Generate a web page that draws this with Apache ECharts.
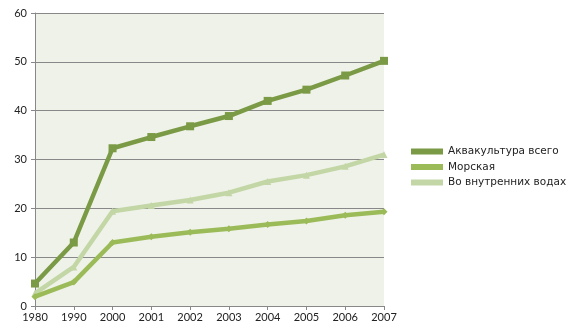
<!DOCTYPE html>
<html><head><meta charset="utf-8">
<script src="https://cdn.jsdelivr.net/npm/echarts@6/dist/echarts.min.js"></script>
<style>html,body{margin:0;padding:0;background:#fff}#c{width:576px;height:336px}</style>
</head><body><div id="c"></div>
<script>
var categories = ['1980','1990','2000','2001','2002','2003','2004','2005','2006','2007'];
var seriesNames = ['Аквакультура всего','Морская','Во внутренних водах'];
var totalValues = [4.6, 13.0, 32.3, 34.6, 36.8, 38.9, 42.0, 44.3, 47.2, 50.2];
var marineValues = [1.9, 4.9, 13.0, 14.2, 15.1, 15.8, 16.7, 17.4, 18.6, 19.3];
var inlandValues = [2.6, 8.0, 19.4, 20.6, 21.7, 23.2, 25.5, 26.8, 28.6, 31.0];
var yTicks = [0, 10, 20, 30, 40, 50, 60];

var colors = ['#7a9a45', '#9bbb59', '#c3d6a6'];
var symbols = ['rect', 'diamond', 'triangle'];
var data = [totalValues, marineValues, inlandValues];
var font = 'Lato, "Open Sans", sans-serif';

var chart = echarts.init(document.getElementById('c'));
chart.setOption({
  animation: false,
  grid: {left: 35, right: 192, top: 13, bottom: 30, show: true, backgroundColor: '#eff2e8', borderWidth: 0},
  legend: {
    orient: 'vertical', left: 411, top: 146, itemWidth: 32, itemHeight: 6, itemGap: 4.5,
    padding: 0,
    textStyle: {fontFamily: '"DejaVu Sans", sans-serif', fontSize: 10.5, color: '#222'},
    data: seriesNames.map(function(n, i){ return {name: n, icon: 'rect'}; })
  },
  xAxis: {
    type: 'category', data: categories, boundaryGap: false,
    axisLine: {lineStyle: {color: '#888', width: 1}},
    axisTick: {show: true, length: 4, lineStyle: {color: '#888'}},
    axisLabel: {fontFamily: font, fontSize: 11, color: '#222', margin: 6},
    splitLine: {show: false}
  },
  yAxis: {
    type: 'value', min: yTicks[0], max: yTicks[yTicks.length-1], interval: 10,
    axisLine: {show: true, lineStyle: {color: '#888', width: 1}},
    axisTick: {show: true, length: 4, lineStyle: {color: '#888'}},
    axisLabel: {fontFamily: font, fontSize: 11, color: '#222', margin: 8},
    splitLine: {show: true, lineStyle: {color: '#888', width: 1}}
  },
  series: seriesNames.map(function(n, i){
    return {
      name: n, type: 'line', data: data[i],
      symbol: symbols[i], symbolSize: i === 0 ? 8 : 7, showSymbol: true,
      lineStyle: {color: colors[i], width: 4.5},
      itemStyle: {color: colors[i]},
      z: 3 - i
    };
  })
});
</script></body></html>
